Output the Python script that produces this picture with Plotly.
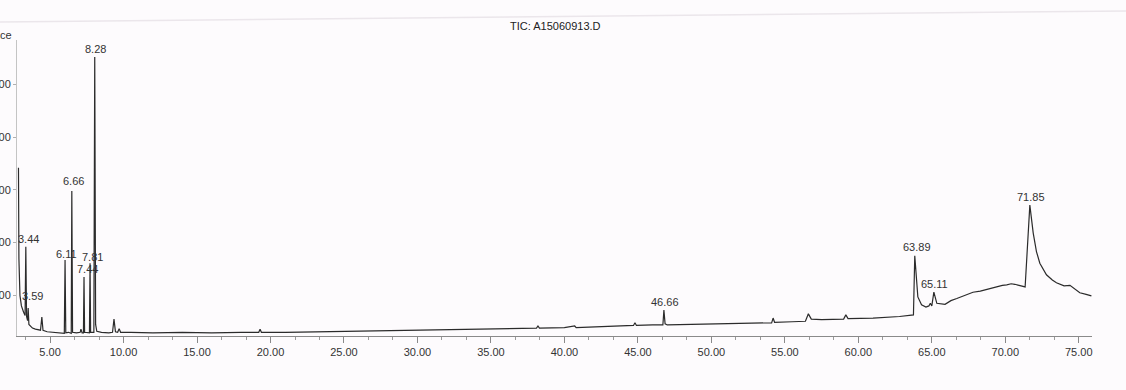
import plotly.graph_objects as go

# ---- data (time in min, abundance in counts) ----
time_min = [
    2.85, 2.88, 2.95, 3.05, 3.20, 3.30, 3.35, 3.40, 3.47, 3.51, 3.56, 3.65, 3.80, 4.00,
    4.35, 4.44, 4.52, 4.80, 5.20, 5.60, 5.97, 6.02, 6.07, 6.25, 6.44, 6.48, 6.53, 6.80,
    7.05, 7.10, 7.18, 7.27, 7.31, 7.35, 7.55, 7.68, 7.72, 7.76, 7.98, 8.04, 8.10, 8.18,
    8.50, 9.00, 9.25, 9.35, 9.45, 9.60, 9.70, 9.80, 10.5, 12.0, 14.0, 16.0, 18.0, 19.2,
    19.29, 19.38, 21.0, 23.0, 25.0, 27.0, 29.0, 31.0, 33.0, 35.0, 37.0, 38.1, 38.2, 38.3,
    40.0, 40.7, 40.8, 42.0, 43.5, 44.7, 44.8, 44.9, 46.0, 46.7, 46.77, 46.85, 47.0, 49.0,
    51.0, 53.0, 54.1, 54.2, 54.3, 55.5, 56.4, 56.6, 56.8, 57.5, 59.0, 59.15, 59.3, 61.0,
    62.8, 63.75, 63.84, 64.05, 64.3, 64.6, 64.8, 64.9, 65.0, 65.14, 65.34, 65.9, 66.3,
    66.7, 67.2, 67.8, 68.3, 68.8, 69.2, 69.5, 69.8, 70.1, 70.4, 70.65, 71.1, 71.35, 71.67,
    71.9, 72.12, 72.35, 72.8, 73.2, 73.48, 74.0, 74.4, 74.6, 75.07, 75.5, 75.86,
]
abundance = [
    3420000, 1700000, 1000000, 800000, 680000, 620000, 1920000, 600000, 520000, 760000,
    450000, 420000, 380000, 360000, 340000, 590000, 340000, 310000, 300000, 290000,
    280000, 1670000, 290000, 300000, 280000, 2980000, 300000, 290000, 300000, 360000,
    290000, 290000, 1350000, 300000, 290000, 290000, 1610000, 300000, 300000, 5520000,
    450000, 320000, 300000, 290000, 300000, 550000, 310000, 300000, 370000, 300000,
    300000, 290000, 300000, 290000, 300000, 300000, 360000, 300000, 300000, 310000,
    310000, 320000, 330000, 340000, 350000, 360000, 370000, 380000, 420000, 380000,
    390000, 420000, 390000, 400000, 420000, 430000, 480000, 430000, 440000, 440000,
    720000, 460000, 440000, 450000, 460000, 470000, 480000, 570000, 490000, 500000,
    510000, 650000, 550000, 540000, 550000, 630000, 560000, 570000, 600000, 630000,
    1750000, 970000, 820000, 780000, 800000, 850000, 800000, 1060000, 850000, 830000,
    900000, 940000, 1000000, 1060000, 1080000, 1120000, 1140000, 1170000, 1190000,
    1200000, 1220000, 1210000, 1180000, 1160000, 2710000, 2180000, 1830000, 1610000,
    1390000, 1290000, 1240000, 1180000, 1190000, 1150000, 1050000, 1020000, 990000,
]

peak_times = [3.35, 3.51, 6.02, 6.48, 7.31, 7.72, 8.04, 46.77, 63.84, 65.14, 71.67]
peak_labels = ["3.44", "3.59", "6.11", "6.66", "7.44", "7.81", "8.28",
               "46.66", "63.89", "65.11", "71.85"]

x_tick_values = [5, 10, 15, 20, 25, 30, 35, 40, 45, 50, 55, 60, 65, 70, 75]
x_tick_labels = ["5.00", "10.00", "15.00", "20.00", "25.00", "30.00", "35.00", "40.00",
                 "45.00", "50.00", "55.00", "60.00", "65.00", "70.00", "75.00"]
y_tick_values = [1000000, 2000000, 3000000, 4000000, 5000000]

title_text = "TIC: A15060913.D"
y_title_text = "Abundance"

# ---- styling (pixel offsets for the peak labels) ----
label_xshift = [3, 4, 1, 2, 3, 2, 1, 1, 2, 1, 1]
label_yshift = [0, 4, -2, 2, 0, -2, 0, 0, 1, 0, 0]

FONT = "Liberation Sans, Arial, sans-serif"
INK = "#2b2b2b"

fig = go.Figure()
fig.add_trace(go.Scatter(
    x=time_min, y=abundance, mode="lines",
    line=dict(color=INK, width=1.2), hoverinfo="skip", showlegend=False,
))

lookup = dict(zip(time_min, abundance))
for i, (t, lab) in enumerate(zip(peak_times, peak_labels)):
    fig.add_annotation(
        x=t, y=lookup[t], xref="x", yref="y", text=lab, showarrow=False,
        xanchor="center", yanchor="bottom", xshift=label_xshift[i], yshift=label_yshift[i],
        font=dict(family=FONT, size=11, color="#333333"),
    )

# plot area: left 17 px, right 1092 px, top 40 px, bottom 336 px
L, R, T, B = 17, 34, 40, 54
W, H = 1126, 390
pw, ph = W - L - R, H - T - B

fig.add_annotation(
    x=(555 - L) / pw, y=(H - B - 26) / ph, xref="paper", yref="paper",
    text=title_text, showarrow=False, xanchor="center", yanchor="middle",
    font=dict(family=FONT, size=11, color="#222222"),
)
fig.add_annotation(
    x=(14 - L) / pw, y=(H - B - 35) / ph, xref="paper", yref="paper",
    text=y_title_text, showarrow=False, xanchor="right", yanchor="middle",
    font=dict(family=FONT, size=11, color="#333333"),
)

# faint scan edge at the top of the sheet
fig.add_shape(type="line", xref="paper", yref="paper",
              x0=(0 - L) / pw, x1=(W - L) / pw,
              y0=(H - B - 22) / ph, y1=(H - B - 11) / ph,
              line=dict(color="#ebe6eb", width=1.5))

fig.update_layout(
    width=W, height=H,
    margin=dict(l=L, r=R, t=T, b=B, autoexpand=False),
    paper_bgcolor="#fdfbfd", plot_bgcolor="#fdfbfd",
    template="none",
    font=dict(family=FONT, size=11, color="#333333"),
    xaxis=dict(
        range=[2.75, 75.9], tickmode="array", tickvals=x_tick_values, ticktext=x_tick_labels,
        showline=True, linecolor="#8a8a8a", linewidth=1, ticks="outside", ticklen=6,
        tickcolor="#8a8a8a", showgrid=False, zeroline=False, automargin=False,
        tickfont=dict(family=FONT, size=11, color="#333333"),
        minor=dict(dtick=5 / 3, tick0=0, ticks="outside", ticklen=3, tickcolor="#9a9a9a",
                   showgrid=False),
    ),
    yaxis=dict(
        range=[230000, 5840000], tickmode="array", tickvals=y_tick_values, tickformat="d",
        showline=True, linecolor="#c4c4c4", linewidth=1, ticks="outside", ticklen=3,
        tickcolor="#b0b0b0", showgrid=False, zeroline=False, automargin=False,
        tickfont=dict(family=FONT, size=11, color="#333333"),
    ),
)

fig.write_html("out.html")
